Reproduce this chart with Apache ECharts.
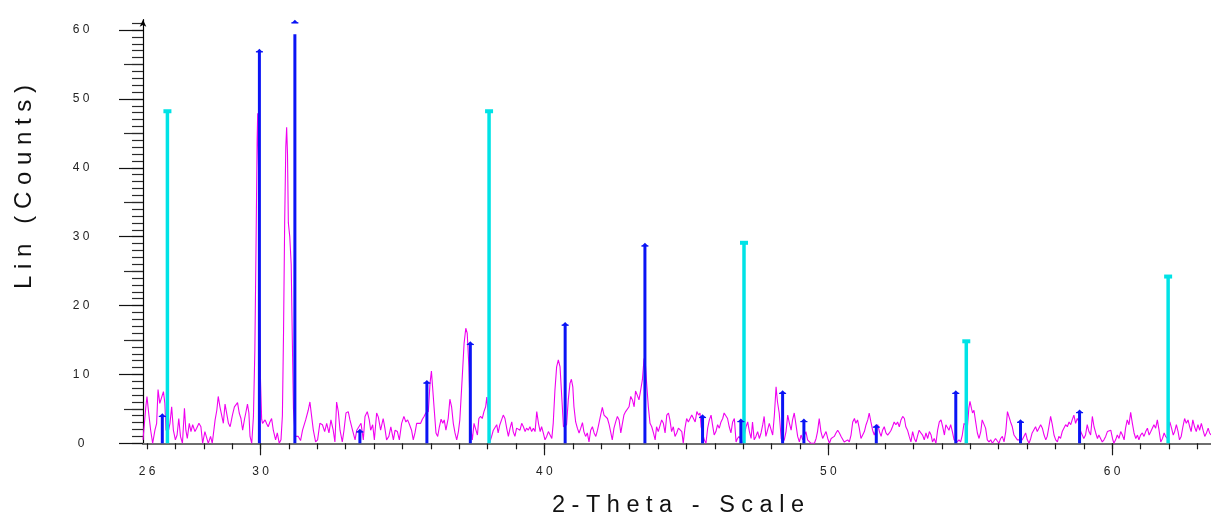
<!DOCTYPE html>
<html>
<head>
<meta charset="utf-8">
<script src="https://cdn.jsdelivr.net/npm/echarts/dist/echarts.min.js"></script>
<style>
html,body{margin:0;padding:0;background:#fff;}
#chart{width:1211px;height:517px;}
</style>
</head>
<body>
<div id="chart"></div>
<script>
// ---- data ----
const xMin = 25.86, xMax = 63.48, yMin = 0, yMax = 61.5;
const xLabelValues = [26, 30, 40, 50, 60];
const xMinorTicks = [26,27,28,29,30,31,32,33,34,35,36,37,38,39,40,41,42,43,44,45,46,47,48,49,50,51,52,53,54,55,56,57,58,59,60,61,62,63];
const xMajorTicks = [30, 40, 50, 60];
const yLabelValues = [0, 10, 20, 30, 40, 50, 60];
const yMinorTicks = [0,1,2,3,4,5,6,7,8,9,10,11,12,13,14,15,16,17,18,19,20,21,22,23,24,25,26,27,28,29,30,31,32,33,34,35,36,37,38,39,40,41,42,43,44,45,46,47,48,49,50,51,52,53,54,55,56,57,58,59,60,61];
const yMidTicks = [5, 15, 25, 35, 45, 55];
const yMajorTicks = [0, 10, 20, 30, 40, 50, 60];

// measured scan: [2-Theta, Lin counts]
const scan = [
[25.86,0.5],[25.96,5.3],[26.00,6.8],[26.06,4.4],[26.13,1.9],[26.20,0],[26.28,1.9],[26.34,2.9],[26.39,7.8],[26.45,5.8],[26.50,6.0],[26.58,7.5],[26.63,5.8],[26.67,1.9],[26.76,1.9],[26.81,2.9],[26.87,5.3],[26.93,1.9],[27.00,0.5],[27.06,1.2],[27.12,3.6],[27.18,1.0],[27.25,0],[27.32,5.1],[27.37,1.9],[27.42,0.7],[27.49,2.9],[27.55,1.7],[27.61,2.7],[27.69,1.7],[27.75,2.2],[27.83,2.9],[27.90,2.4],[27.96,0],[28.04,1.7],[28.10,1.7],[28.16,0],[28.24,1.0],[28.30,0],[28.40,3.4],[28.46,4.8],[28.51,6.8],[28.57,5.3],[28.63,5.1],[28.69,2.9],[28.75,5.7],[28.81,5.6],[28.87,2.9],[28.93,2.4],[29.01,4.1],[29.08,5.3],[29.14,5.1],[29.19,5.9],[29.25,4.4],[29.31,3.6],[29.37,1.9],[29.44,3.6],[29.48,4.4],[29.54,5.7],[29.59,4.4],[29.63,1.0],[29.69,0],[29.75,3.9],
[29.80,13.5],[29.84,28],[29.88,44],[29.90,47.9],[29.93,40],[29.96,22],[30.00,9],[30.04,3.5],
[30.07,2.9],[30.16,3.4],[30.22,2.8],[30.27,2.4],[30.33,3.1],[30.39,3.6],[30.45,1.9],[30.53,0.5],[30.59,1.5],[30.66,0],[30.72,0.5],
[30.77,4],[30.81,16],[30.85,32],[30.89,43],[30.92,45.9],[30.95,42],[30.98,32],[31.03,30],[31.08,26],[31.12,15],[31.16,5],[31.22,1],
[31.33,1.0],[31.41,0.4],[31.48,1.9],[31.59,3.4],[31.68,4.8],[31.74,6.0],[31.80,3.9],[31.86,1.9],[31.94,0.2],[32.01,0.5],[32.09,2.9],[32.18,2.7],[32.26,1.7],[32.33,2.9],[32.41,1.5],[32.48,3.4],[32.56,1.9],[32.62,0.2],[32.68,6.0],[32.74,4.6],[32.80,1.9],[32.88,0.2],[32.94,1.9],[33.01,4.4],[33.09,4.6],[33.15,3.4],[33.24,1.9],[33.33,0.5],[33.39,1.9],[33.46,2.0],[33.54,2.9],[33.62,0.5],[33.68,3.9],[33.76,4.6],[33.83,3.4],[33.88,1.9],[33.95,2.7],[34.01,0.5],[34.09,4.4],[34.15,3.8],[34.23,1.9],[34.32,3.6],[34.38,2.2],[34.44,0.5],[34.52,1.0],[34.59,2.4],[34.68,0.5],[34.74,1.9],[34.82,1.7],[34.89,0.5],[34.97,2.9],[35.05,3.9],[35.12,3.1],[35.18,3.4],[35.24,2.8],[35.32,1.9],[35.38,0.5],[35.44,1.5],[35.50,2.9],[35.57,3.1],[35.64,2.9],[35.70,3.5],[35.76,3.9],[35.82,4.4],[35.87,4.6],
[35.91,4.6],[35.97,8.7],[36.02,10.5],[36.06,8.2],[36.12,4.8],[36.18,1.5],[36.24,1.0],[36.30,2.4],[36.36,3.5],[36.42,2.9],[36.47,3.4],[36.53,1.9],[36.61,3.6],[36.67,6.4],[36.73,5.3],[36.79,2.9],[36.85,1.5],[36.91,0.5],[36.97,1.7],[37.02,3.4],[37.10,9.2],[37.17,14.5],[37.23,16.7],[37.28,16.0],[37.34,11.1],[37.40,2.4],[37.46,0.5],[37.52,2.9],[37.58,2.7],[37.64,1.2],[37.69,3.6],[37.75,3.9],[37.81,3.6],[37.87,4.6],[37.93,5.3],[37.97,6.7],[38.01,4.8],[38.08,0.2],[38.14,1.0],[38.20,1.9],[38.26,1.7],[38.32,2.7],[38.37,1.5],[38.43,2.7],[38.49,3.4],[38.55,4.1],[38.61,3.6],[38.67,2.2],[38.73,1.0],[38.79,2.2],[38.85,3.1],[38.90,1.7],[38.96,1.0],[39.02,2.2],[39.08,2.4],[39.14,1.9],[39.20,2.9],[39.26,2.4],[39.32,1.7],[39.37,2.2],[39.43,1.9],[39.49,2.4],[39.55,1.7],[39.61,2.2],[39.67,1.7],[39.73,4.6],[39.79,2.9],[39.85,1.7],[39.90,2.4],[39.96,1.5],[40.02,0.5],[40.08,1.0],[40.14,1.7],[40.20,1.2],[40.26,0.7],[40.31,2.9],[40.37,7.7],[40.43,11.1],[40.49,12.1],[40.55,11.1],[40.61,6.8],[40.67,2.4],[40.78,2.7],[40.84,6.3],[40.90,8.7],[40.95,9.3],[41.00,8.2],[41.04,5.3],[41.10,3.1],[41.16,2.2],[41.22,1.5],[41.28,2.2],[41.34,3.0],[41.39,1.7],[41.45,1.0],[41.51,1.5],[41.57,0.2],[41.63,1.9],[41.69,2.4],[41.75,1.5],[41.81,1.0],[41.87,1.9],[41.92,2.9],[41.98,4.1],[42.04,5.2],[42.10,4.1],[42.16,4.1],[42.22,3.6],[42.28,2.7],[42.34,1.5],[42.39,0.5],[42.45,2.2],[42.51,3.1],[42.57,3.9],[42.63,3.4],[42.69,1.5],[42.74,2.7],[42.80,4.1],[42.86,4.6],[42.92,4.8],[42.98,5.3],[43.04,6.8],[43.10,6.3],[43.16,5.3],[43.21,7.6],[43.27,7.0],[43.33,6.3],[43.39,7.7],[43.45,9.2],[43.51,12.3],[43.55,11.9],[43.60,8.7],[43.66,5.3],[43.72,2.9],[43.78,2.4],[43.84,1.5],[43.90,0.5],[43.95,2.4],[44.01,1.7],[44.07,1.5],[44.13,3.4],[44.19,2.9],[44.25,1.5],[44.31,4.1],[44.37,4.4],[44.42,3.4],[44.48,1.7],[44.54,2.4],[44.60,1.0],[44.66,1.5],[44.72,2.2],[44.78,2.4],[44.84,1.7],[44.89,0],[44.95,2.2],[45.01,3.6],[45.07,3.1],[45.13,2.9],[45.19,4.1],[45.25,4.1],[45.31,3.1],[45.37,4.6],[45.43,4.1],[45.48,4.4],
[45.52,2.4],[45.63,0.5],[45.69,0],[45.75,2.2],[45.81,3.4],[45.87,4.1],[45.92,2.7],[45.98,1.2],[46.04,1.7],[46.10,2.7],[46.16,2.2],[46.22,3.1],[46.28,3.6],[46.33,4.4],[46.39,4.6],[46.45,3.6],[46.51,2.4],[46.57,1.5],[46.63,3.1],[46.69,3.6],[46.75,0.2],[46.80,0.7],[46.86,1.0],[46.98,0],[47.10,2.4],[47.16,3.1],[47.22,1.7],[47.28,0.7],[47.33,3.1],[47.39,0.5],[47.45,1.0],[47.51,1.7],[47.57,0.7],[47.63,1.5],[47.69,2.7],[47.74,3.9],[47.80,1.0],[47.86,1.9],[47.92,2.9],[47.98,2.7],[48.04,1.2],[48.10,4.1],[48.16,8.2],[48.21,6.0],[48.27,4.4],[48.34,0.7],[48.39,0.2],[48.45,0.5],[48.51,1.7],[48.57,4.1],[48.63,2.9],[48.69,1.9],[48.74,3.4],[48.80,4.4],[48.86,2.7],[48.92,1.0],[48.98,0.2],[49.04,1.2],[49.10,0.5],[49.21,1.7],[49.27,0.5],[49.33,0.7],[49.39,0],[49.45,0.2],[49.51,0],[49.57,0.7],[49.62,1.7],[49.68,3.6],[49.74,1.7],[49.80,0.7],[49.86,1.2],[49.92,1.7],[49.98,0.7],[50.04,0],[50.10,0.7],[50.15,0.5],[50.21,1.0],[50.27,1.5],[50.33,1.9],[50.39,1.5],[50.45,1.0],[50.50,1.2],[50.56,0.2],[50.62,0],[50.68,0.5],[50.74,0.2],[50.80,1.2],[50.86,3.1],[50.92,3.6],[50.97,2.9],[51.03,3.4],[51.09,2.2],[51.15,0.7],[51.21,1.2],[51.27,1.7],[51.33,2.7],[51.39,3.4],[51.44,4.4],[51.50,3.1],[51.56,1.9],[51.62,1.2],[51.74,2.7],[51.80,1.7],[51.86,1.0],[51.91,1.9],[51.97,2.4],[52.03,1.5],[52.09,1.2],[52.15,1.5],[52.21,1.9],[52.26,2.4],[52.32,3.1],[52.38,2.7],[52.44,3.1],[52.50,2.4],[52.56,3.4],[52.62,3.9],[52.68,3.6],[52.73,2.4],[52.79,1.9],[52.85,1.0],[52.91,0.2],[52.97,1.7],[53.03,0.7],[53.09,0.2],[53.15,1.2],[53.20,1.9],[53.26,1.5],[53.32,1.2],[53.38,0.5],[53.44,1.5],[53.50,0.7],[53.56,1.7],[53.62,1.2],[53.67,0.2],[53.73,0.7],[53.79,0],[53.85,1.9],[53.91,3.1],[53.97,3.4],[54.03,2.4],[54.09,1.2],[54.14,2.7],
[54.25,1.9],[54.31,2.7],[54.37,1.7],[54.43,0.5],[54.54,0.2],[54.60,0.5],[54.66,0.2],[54.72,1.2],[54.78,2.9],[54.90,2.4],[54.95,5.1],[54.99,6.1],[55.04,5.1],[55.08,4.4],[55.13,4.8],[55.19,3.1],[55.25,1.5],[55.31,0.7],[55.37,1.7],[55.42,3.4],[55.48,3.6],[55.54,2.2],[55.60,0.5],[55.66,0.2],[55.72,0.5],[55.78,0],[55.84,0.2],[55.89,0.7],[55.95,0.5],[56.01,0],[56.07,0.7],[56.13,1.0],[56.19,0.2],[56.25,1.7],[56.31,4.6],[56.36,3.9],[56.42,3.1],[56.48,2.4],[56.54,1.2],[56.60,1.0],[56.66,0.5],[56.83,0.5],[56.89,1.0],[56.95,1.5],[57.01,0.5],[57.07,0],[57.13,0.7],[57.18,1.5],[57.24,1.7],[57.30,2.4],[57.36,1.7],[57.42,1.9],[57.48,2.7],[57.54,2.2],[57.60,1.2],[57.66,0.5],[57.71,1.0],[57.77,2.4],[57.83,3.9],[57.89,2.7],[57.95,1.2],[58.01,0.5],[58.07,0.2],[58.12,1.0],[58.18,0.7],[58.24,1.7],[58.30,1.5],[58.36,2.7],[58.42,2.4],[58.48,3.1],[58.54,2.7],[58.59,3.4],[58.65,4.1],[58.71,2.9],[58.77,3.6],[58.83,3.1],[58.89,1.7],[58.95,1.5],[59.00,0.7],[59.06,1.2],[59.12,2.7],[59.18,1.7],[59.24,1.2],[59.30,3.9],[59.36,2.4],[59.42,1.5],[59.48,0.7],[59.53,1.2],[59.59,1.0],[59.65,0.2],[59.71,0.5],[59.77,1.0],[59.83,1.7],[59.89,1.5],[59.95,1.9],[60.01,0.7],[60.06,0],[60.12,0.5],[60.18,1.2],[60.24,0.7],[60.30,1.7],[60.36,1.2],[60.42,0.5],[60.47,2.2],[60.53,3.4],[60.59,2.7],[60.65,4.5],[60.71,2.9],[60.77,1.5],[60.83,0.7],[60.89,1.2],[60.94,0.5],[61.00,1.2],[61.06,1.5],[61.12,1.0],[61.18,1.7],[61.24,2.2],[61.30,1.2],[61.36,1.7],[61.41,1.9],[61.47,2.7],[61.53,2.2],[61.59,3.4],[61.65,1.9],[61.71,0.2],[61.77,0.7],[61.83,1.5],[61.88,1.0],[61.94,0.7],[62.03,3.1],[62.09,2.2],[62.15,1.2],[62.20,1.7],[62.26,2.7],[62.32,1.7],[62.37,0.5],[62.43,1.0],[62.49,2.4],[62.55,3.6],[62.61,2.9],[62.67,3.4],[62.73,2.4],[62.78,1.7],[62.84,3.4],[62.90,2.4],[62.96,1.7],[63.02,2.7],[63.08,1.9],[63.14,2.9],[63.20,1.9],[63.26,1.0],[63.32,1.5],[63.38,2.2],[63.43,1.5],[63.48,1.2]
];

// reference pattern 1 (blue sticks)
const blueTheta  = [26.54, 29.96, 31.21, 33.50, 35.86, 37.39, 40.73, 43.54, 45.57, 46.92, 48.39, 49.14, 51.69, 54.49, 56.77, 58.85];
const blueCounts = [4.35, 57.3, 64.0, 2.1, 9.2, 14.8, 17.6, 29.1, 4.2, 3.6, 7.7, 3.6, 2.8, 7.7, 3.5, 4.9];
// reference pattern 2 (cyan sticks)
const cyanTheta  = [26.72, 38.05, 47.03, 54.86, 61.97];
const cyanCounts = [48.5, 48.5, 29.4, 15.1, 24.5];

const xTitle = '2-Theta - Scale';
const yTitle = 'Lin (Counts)';

// ---- chart ----
const FONT = '"Liberation Sans", Arial, sans-serif';
const spaced = s => String(s).split('').join(' ');
const chart = echarts.init(document.getElementById('chart'), null, {renderer: 'canvas'});

function stickRenderer(color, lineW, capKind) {
  return function (params, api) {
    const x = api.value(0), v = api.value(1);
    const base = api.coord([x, 0]);
    const top = api.coord([x, Math.min(v, yMax)]);
    const clipped = v > yMax;
    const lineTopY = clipped ? api.coord([x, yMax - 2.1])[1] : top[1];
    const children = [];
    if (capKind === 'bar') {
      children.push({type: 'rect', shape: {x: base[0] - lineW / 2, y: lineTopY + 3, width: lineW, height: base[1] - lineTopY - 3}, style: {fill: color}});
      children.push({type: 'rect', shape: {x: top[0] - 4, y: top[1], width: 8, height: 4}, style: {fill: color}});
    } else {
      const startY = clipped ? lineTopY : top[1] + 3;
      children.push({type: 'rect', shape: {x: base[0] - lineW / 2, y: startY, width: lineW, height: base[1] - startY}, style: {fill: color}});
      children.push({type: 'polygon', shape: {points: [[top[0] - 3.5, top[1] + 3.5], [top[0], top[1]], [top[0] + 3.5, top[1] + 3.5]]}, style: {fill: color}});
      children.push({type: 'rect', shape: {x: top[0] - 3.5, y: top[1] + 2.5, width: 7, height: 1.2}, style: {fill: color}});
    }
    return {type: 'group', children: children};
  };
}

const tickLabelStyle = {fontFamily: FONT, fontSize: 12, color: '#222'};

const option = {
  animation: false,
  backgroundColor: '#fff',
  grid: {left: 143, top: 19.7, width: 1068, height: 423.6, containLabel: false},
  xAxis: [
    {
      type: 'value', min: xMin, max: xMax, position: 'bottom',
      axisLine: {show: true, onZero: false, lineStyle: {color: '#6e6e6e', width: 2}},
      axisTick: {show: true, inside: false, length: 6, customValues: xMinorTicks, lineStyle: {color: '#1a1a1a', width: 1.2}},
      axisLabel: Object.assign({show: true, customValues: xLabelValues, margin: 22, formatter: v => spaced(v)}, tickLabelStyle),
      splitLine: {show: false}
    },
    {
      type: 'value', min: xMin, max: xMax, position: 'bottom',
      axisLine: {show: false},
      axisTick: {show: true, inside: false, length: 12, customValues: xMajorTicks, lineStyle: {color: '#1a1a1a', width: 1.2}},
      axisLabel: {show: false},
      splitLine: {show: false}
    }
  ],
  yAxis: [
    {
      type: 'value', min: yMin, max: yMax, position: 'left',
      axisLine: {show: true, onZero: false, symbol: ['none', 'arrow'], symbolSize: [5, 7], symbolOffset: [0, 0], lineStyle: {color: '#000', width: 1.2}},
      axisTick: {show: true, length: 11, customValues: yMinorTicks, lineStyle: {color: '#2a2a2a', width: 1.2}},
      axisLabel: Object.assign({show: true, customValues: yLabelValues, margin: 62, align: 'center', formatter: v => spaced(v)}, tickLabelStyle),
      splitLine: {show: false}
    },
    {
      type: 'value', min: yMin, max: yMax, position: 'left', offset: 0,
      axisLine: {show: false},
      axisTick: {show: true, length: 19, customValues: yMidTicks, lineStyle: {color: '#2a2a2a', width: 1.2}},
      axisLabel: {show: false},
      splitLine: {show: false}
    },
    {
      type: 'value', min: yMin, max: yMax, position: 'left', offset: 0,
      axisLine: {show: false},
      axisTick: {show: true, length: 24, customValues: yMajorTicks, lineStyle: {color: '#111', width: 1.2}},
      axisLabel: {show: false},
      splitLine: {show: false}
    }
  ],
  graphic: [
    {type: 'text', x: 24, y: 187, rotation: Math.PI / 2,
     style: {text: spaced(yTitle), font: '24px ' + FONT, fill: '#111', align: 'center', verticalAlign: 'middle'}},
    {type: 'text', x: 678, y: 506,
     style: {text: spaced(xTitle), font: '23.5px ' + FONT, fill: '#111', align: 'center', verticalAlign: 'middle'}}
  ],
  series: [
    {
      type: 'line', xAxisIndex: 0, yAxisIndex: 0, data: scan, showSymbol: false, symbol: 'none',
      lineStyle: {color: '#f000f0', width: 1.1}, z: 2, silent: true
    },
    {
      type: 'custom', xAxisIndex: 0, yAxisIndex: 0, clip: false, z: 3,
      data: cyanTheta.map((t, i) => [t, cyanCounts[i]]),
      encode: {x: 0, y: 1},
      renderItem: stickRenderer('#00e3e6', 3.5, 'bar')
    },
    {
      type: 'custom', xAxisIndex: 0, yAxisIndex: 0, clip: false, z: 4,
      data: blueTheta.map((t, i) => [t, blueCounts[i]]),
      encode: {x: 0, y: 1},
      renderItem: stickRenderer('#0a14f5', 3, 'arrow')
    }
  ]
};
chart.setOption(option);
</script>
</body>
</html>
